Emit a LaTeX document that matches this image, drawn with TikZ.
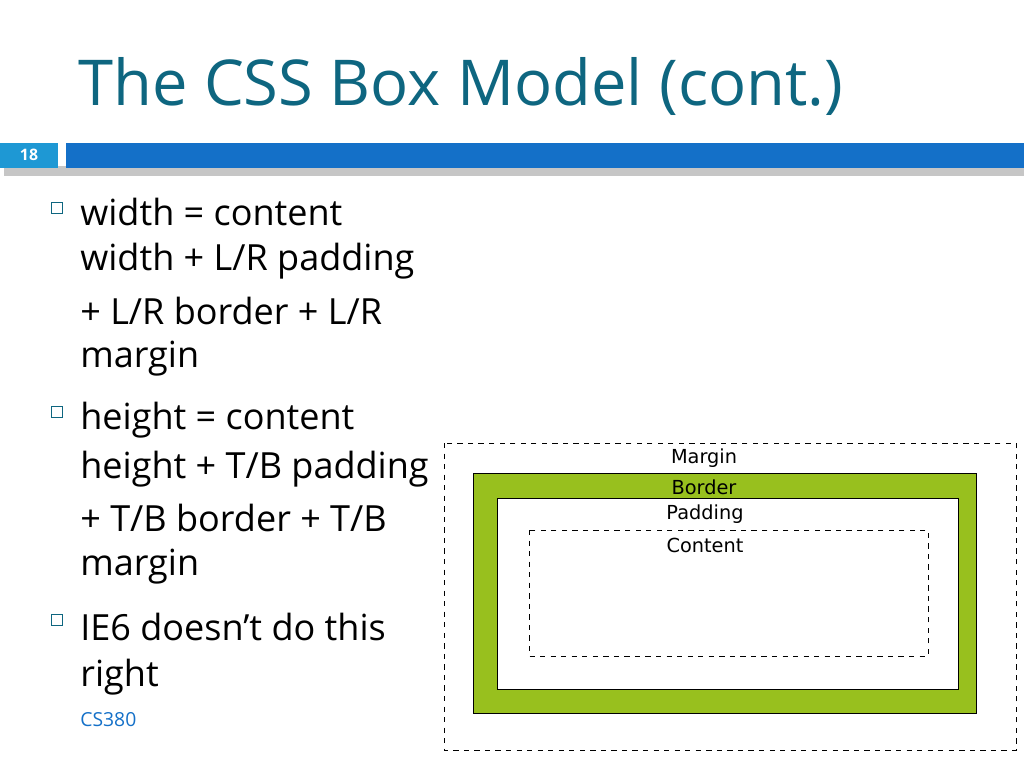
\documentclass[tikz,border=0pt]{standalone}
\usepackage{fontspec}
\setmainfont{Open Sans}
\newfontfamily\boxfont{DejaVu Sans}
\usetikzlibrary{positioning}
\definecolor{titleteal}{RGB}{14,102,128}
\definecolor{barblue}{RGB}{20,112,200}
\definecolor{numblue}{RGB}{30,152,212}
\definecolor{bordergreen}{RGB}{152,192,30}
\begin{document}
\begin{tikzpicture}[x=0.02cm, y=-0.02cm,
	line/.style={anchor=west, inner sep=0pt, font=\fontsize{20.5}{24}\selectfont},
	bullet/.style={draw=titleteal, minimum size=6.5pt, inner sep=0pt},
	lbl/.style={font=\boxfont\fontsize{11}{13}\selectfont, inner sep=0pt}]
		\useasboundingbox (0,0) rectangle (1024,768);
		\node[anchor=west, inner sep=0pt, text=titleteal, font=\fontsize{36}{40}\selectfont] (title) at (78,86) {The CSS Box Model (cont.)};
		
		% header bar
		\fill[gray!45] (4,166) rectangle (1024,176);
		\fill[numblue] (0,143) rectangle (58,168);
		\fill[barblue] (66,143) rectangle (1024,168);
		\node[text=white, font=\bfseries\fontsize{9}{10}\selectfont] (num) at (29,155) {18};
		
		% bullets
		\node[bullet] (b1) at (57,208) {};
		\node[line] (w1) at (80,212) {width = content};
		\node[line] (w2) at (80,261) {width + L/R padding};
		\node[line] (w3) at (80,311) {+ L/R border + L/R};
		\node[line] (w4) at (80,359) {margin};
		\node[bullet] (b2) at (57,412) {};
		\node[line] (h1) at (80,420) {height = content};
		\node[line] (h2) at (80,469) {height + T/B padding};
		\node[line] (h3) at (80,518) {+ T/B border + T/B};
		\node[line] (h4) at (80,567) {margin};
		\node[bullet] (b3) at (57,620) {};
		\node[line] (i1) at (80,627) {IE6 doesn't do this};
		\node[line] (i2) at (80,677) {right};
		\node[anchor=west, inner sep=0pt, text=barblue, font=\fontsize{11}{13}\selectfont] (cs) at (80,720) {CS380};
		
		% box model
		\draw[fill=white, dashed, thin] (444,443) rectangle (1016,750);
		\draw[fill=bordergreen, thin] (473,473) rectangle (976,713);
		\draw[fill=white, thin] (497,498) rectangle (958,689);
		\draw[dashed, thin] (529,530) rectangle (928,656);
		\node[lbl] (margin) at (704,458) {Margin};
		\node[lbl] (border) at (704,487) {Border};
		\node[lbl] (padding) at (705,514) {Padding};
		\node[lbl] (content) at (705,545) {Content};
	\end{tikzpicture}
\end{document}
